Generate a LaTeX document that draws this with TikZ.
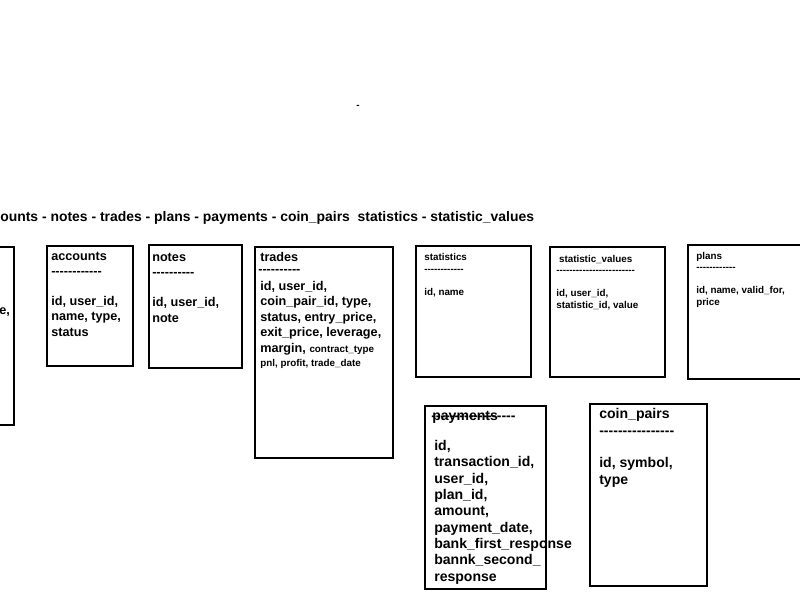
\documentclass[tikz,border=0pt]{standalone}
\usepackage{fontspec}
\setmainfont{Liberation Sans}[Ligatures=TeXOff]
\newcommand{\mkbox}[4]{% #1: x1, #2: y1, #3: x2, #4: y2
	\draw[line width=1.4pt] (#1,#2) rectangle (#3,#4);
}
% base anchor of a multi-line node is its last line
\tikzset{
	txt/.style={anchor=base west, align=left, inner sep=0pt},
	small/.style={txt, font=\bfseries\fontsize{7}{8.1}\selectfont},
	mid/.style={txt, font=\bfseries\fontsize{9}{10.7}\selectfont},
	big/.style={txt, font=\bfseries\fontsize{10}{11.6}\selectfont}
}

\begin{document}
\begin{tikzpicture}[x=0.025cm,y=-0.025cm]
					% Page
					\clip (0,0) rectangle (800,600);
					\fill[white] (0,0) rectangle (800,600);
					
					% Stray mark and list of tables
					\node[small] (mark) at (356,108) {-};
					\node[big, font=\bfseries\fontsize{9.9}{11}\selectfont] (title) at (0,221) {ounts - notes - trades - plans - payments - coin\_pairs\ \ statistics - statistic\_values};
					
					% Boxes
					\mkbox{-20}{247}{14}{425}
					\mkbox{47}{246}{133}{366}
					\mkbox{149}{245}{242}{368}
					\mkbox{255}{247}{393}{458}
					\mkbox{416}{246}{531}{377}
					\mkbox{550}{247}{665}{377}
					\mkbox{688}{245}{810}{379}
					\mkbox{425}{406}{546}{589}
					\mkbox{590}{404}{707}{586}
					
					% Columns
					\node[mid] (users) at (-1,314) {e,};
					\node[mid] (accounts) at (51,336) {accounts\\------------\\ \\id, user\_id,\\name, type,\\status};
					\node[mid] (notes) at (152,322) {notes\\----------\\ \\id, user\_id,\\note};
					\node[mid] (trades) at (260,261) {trades};
					\node[mid] (tradesline) at (258,273) {----------};
					\node[mid, font=\bfseries\fontsize{9}{11}\selectfont] (tradescols) at (260,352) {id, user\_id,\\coin\_pair\_id, type,\\status, entry\_price,\\exit\_price, leverage,\\margin, {\fontsize{7}{8}\selectfont contract\_type}};
					\node[small] (tradesmore) at (260,366) {pnl, profit, trade\_date};
					\node[small] (statistics) at (424,295) {statistics\\------------\\ \\id, name};
					\node[small] (statvalues) at (556,308) {\ statistic\_values\\------------------------\\ \\id, user\_id,\\statistic\_id, value};
					\node[small] (plans) at (696,305) {plans\\------------\\ \\id, name, valid\_for,\\price};
					\node[big] (payments) at (432,420) {payments};
					\node[big] (paymentsline) at (431,420) {------------------};
					\node[big] (paymentscols) at (434,581) {id,\\transaction\_id,\\user\_id,\\plan\_id,\\amount,\\payment\_date,\\bank\_first\_response\\bannk\_second\_\\response};
					\node[big] (coinpairs) at (599,484) {coin\_pairs\\----------------\\ \\id, symbol,\\type};
				\end{tikzpicture}
\end{document}
